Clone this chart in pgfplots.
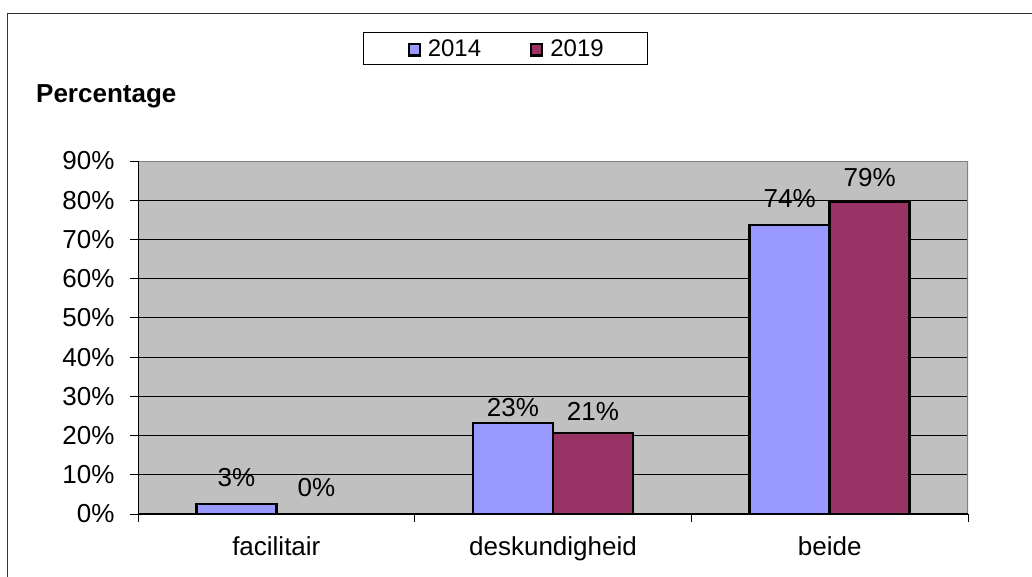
\documentclass[border=0pt]{standalone}
\usepackage{fontspec}
\setmainfont{Liberation Sans}
\usepackage{pgfplots}
\pgfplotsset{compat=1.18}
\definecolor{cA}{HTML}{9999FF}
\definecolor{cB}{HTML}{993366}
\definecolor{bgc}{HTML}{C0C0C0}
\begin{document}
\begin{tikzpicture}[font=\fontsize{26}{30}\selectfont]
\useasboundingbox (0pt,0pt) rectangle (1032pt,577pt);
\draw[line width=1pt, black!80] (7.5pt,0pt) -- (7.5pt,563.5pt) -- (1032pt,563.5pt);
\begin{axis}[
  at={(138pt,63pt)}, anchor=south west,
  scale only axis, width=830pt, height=353pt,
  xmin=-0.5, xmax=2.5, ymin=0, ymax=90,
  ybar=0pt, bar width=80pt,
  axis background/.style={fill=bgc},
  axis line style={draw=none},
  ymajorgrids, grid style={black, line width=0.9pt},
  ytick={0,10,...,90},
  yticklabels={0\%,10\%,20\%,30\%,40\%,50\%,60\%,70\%,80\%,90\%},
  xtick={-0.5,0.5,1.5,2.5}, xticklabels={},
  extra x ticks={0,1,2},
  extra x tick labels={facilitair,deskundigheid,beide},
  extra x tick style={major tick length=0pt, grid=none},
  xtick pos=bottom, ytick pos=left,
  tick align=outside, major tick length=8pt,
  tick style={black, line width=0.9pt},
  yticklabel style={xshift=-12pt},
  xticklabel style={yshift=-19pt},
  every node near coord/.append style={anchor=base, yshift=17pt, inner sep=0pt, text=black},
  legend columns=2,
  legend style={at={(0.443,1.3187)}, anchor=center, draw=black, line width=1pt, fill=white,
    font=\fontsize{24}{28}\selectfont,
    nodes={inner sep=0pt},
    inner xsep=44pt, inner ysep=7pt,
    /tikz/every odd column/.append style={column sep=7pt},
    /tikz/every even column/.append style={column sep=49pt}},
  legend cell align=left,
  every axis y label/.style={at={(rel axis cs:-0.1229,1.1671)}, anchor=base west, inner sep=0pt},
  ylabel={\bfseries Percentage},
]
\addplot[fill=cA, draw=black, line width=2.4pt, nodes near coords, point meta=explicit symbolic,
  legend image code/.code={\draw[fill=cA, draw=black, line width=2.2pt] (0pt,-7pt) rectangle (11pt,4.5pt);}]
  coordinates {(0,2.6) [3\%] (1,23.2) [\raisebox{-10pt}{23\%}\hspace{16pt}] (2,73.7) [74\%]};
\addplot[fill=cB, draw=black, line width=2.4pt, nodes near coords, point meta=explicit symbolic,
  legend image code/.code={\draw[fill=cB, draw=black, line width=2.2pt] (0pt,-7pt) rectangle (11pt,4.5pt);}]
  coordinates {(0,0) [0\%] (1,20.6) [\raisebox{-4pt}{21\%}] (2,79.6) [\raisebox{-2pt}{79\%}]};
\legend{2014,2019}
\draw[gray, line width=1.2pt] (rel axis cs:0,1) -- (rel axis cs:1,1) -- (rel axis cs:1,0);
\draw[black, line width=1pt] (rel axis cs:0,1) -- (rel axis cs:0,0) -- (rel axis cs:1,0);
\end{axis}
\end{tikzpicture}
\end{document}
